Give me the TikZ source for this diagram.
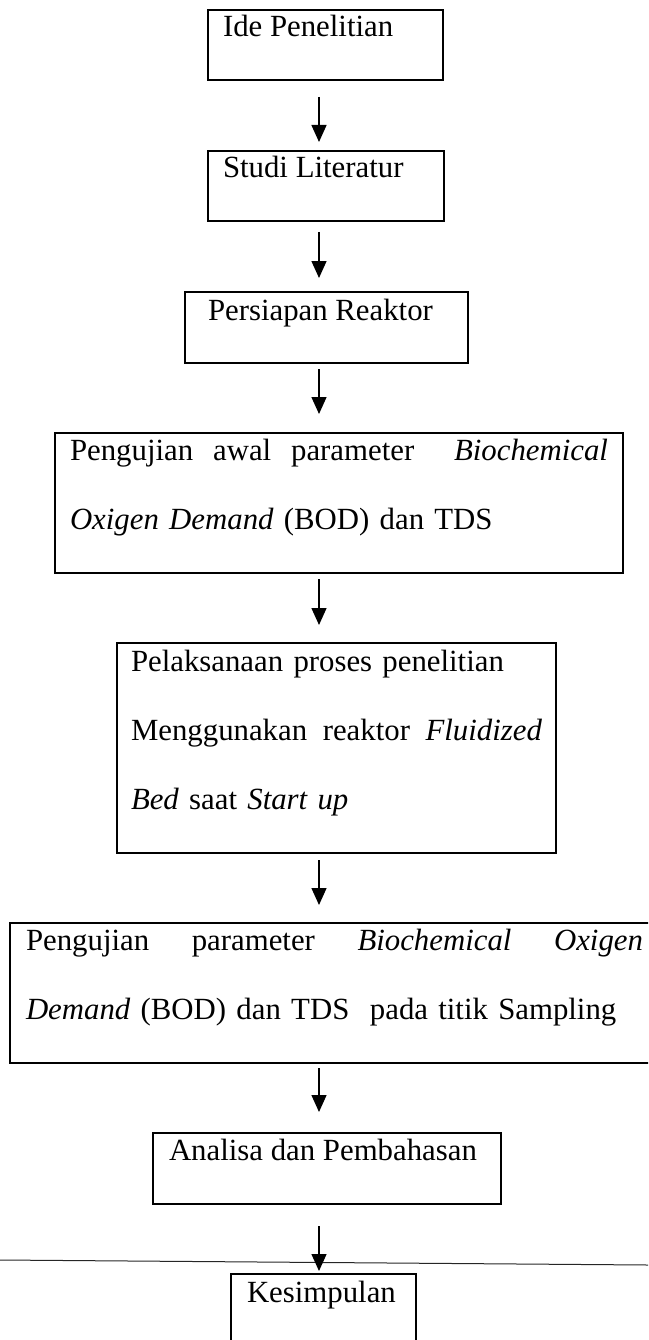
\documentclass[tikz,border=0pt]{standalone}
\usepackage{fontspec}
\setmainfont{Liberation Serif}
\usetikzlibrary{arrows.meta}

\begin{document}
\begin{tikzpicture}[x=1pt, y=-1pt]
    \tikzset{box/.style={draw, line width=1.6pt, inner sep=0pt, outer sep=0pt, anchor=north west},
             txt/.style={inner sep=0pt, outer sep=0pt, anchor=base west, align=left, font=\fontsize{30.8}{69}\selectfont},
             arr/.style={line width=1.4pt, -{Triangle[length=17pt, width=15pt]}}};

    \useasboundingbox (0, 0) rectangle (648, 1340);
    \clip (0, 0) rectangle (648, 1340);

    % Boxes
    \node [box, minimum width=235, minimum height=70] (ide) at (208, 10) {};
    \node [box, minimum width=236, minimum height=70] (studi) at (208, 151) {};
    \node [box, minimum width=283, minimum height=71] (reaktor) at (185, 292) {};
    \node [box, minimum width=568, minimum height=140] (awal) at (55, 433) {};
    \node [box, minimum width=439, minimum height=210] (proses) at (117, 643) {};
    \node [box, minimum width=660, minimum height=140] (uji) at (10, 923) {};
    \node [box, minimum width=348, minimum height=71] (analisa) at (153, 1133) {};
    \node [box, minimum width=185, minimum height=90] (simpul) at (231, 1274) {};

    % Texts
    \node [txt] (ideT) at (223, 37) {Ide Penelitian};
    \node [txt] (studiT) at (223, 178) {Studi Literatur};
    \node [txt] (reaktorT) at (208, 320) {Persiapan Reaktor};
    \node [txt, text width=538] (awalT) at (70, 460)
        {Pengujian\hfill awal\hfill parameter\hfill\hfill \textit{Biochemical}\\
         \textit{Oxigen Demand} (BOD) dan TDS};
    \node [txt, text width=411] (prosesT) at (131, 671)
        {Pelaksanaan proses penelitian\\
         Menggunakan\hfill reaktor\hfill \textit{Fluidized}\\
         \textit{Bed} saat \textit{Start up}};
    \node [txt, text width=617] (ujiT) at (26, 950)
        {Pengujian\hfill parameter\hfill \textit{Biochemical}\hfill \textit{Oxigen}\\
         \textit{Demand} (BOD) dan TDS \ pada titik Sampling};
    \node [txt] (analisaT) at (169, 1160) {Analisa dan Pembahasan};
    \node [txt] (simpulT) at (247, 1302) {Kesimpulan};

    % Line across the page
    \draw [line width=1pt, black!85] (0, 1260) -- (648, 1265);

    % Arrows
    \coordinate (col) at (319, 0);
    \foreach \a/\b/\s/\e in {ide/studi/17pt/9pt, studi/reaktor/11pt/14pt,
                             reaktor/awal/6pt/19pt, awal/proses/6pt/18pt,
                             proses/uji/7pt/18pt, uji/analisa/5pt/21pt,
                             analisa/simpul/22pt/3pt}
      { \draw [arr, shorten <=\s, shorten >=\e] (\a.south -| col) -- (\b.north -| col); }
\end{tikzpicture}
\end{document}
